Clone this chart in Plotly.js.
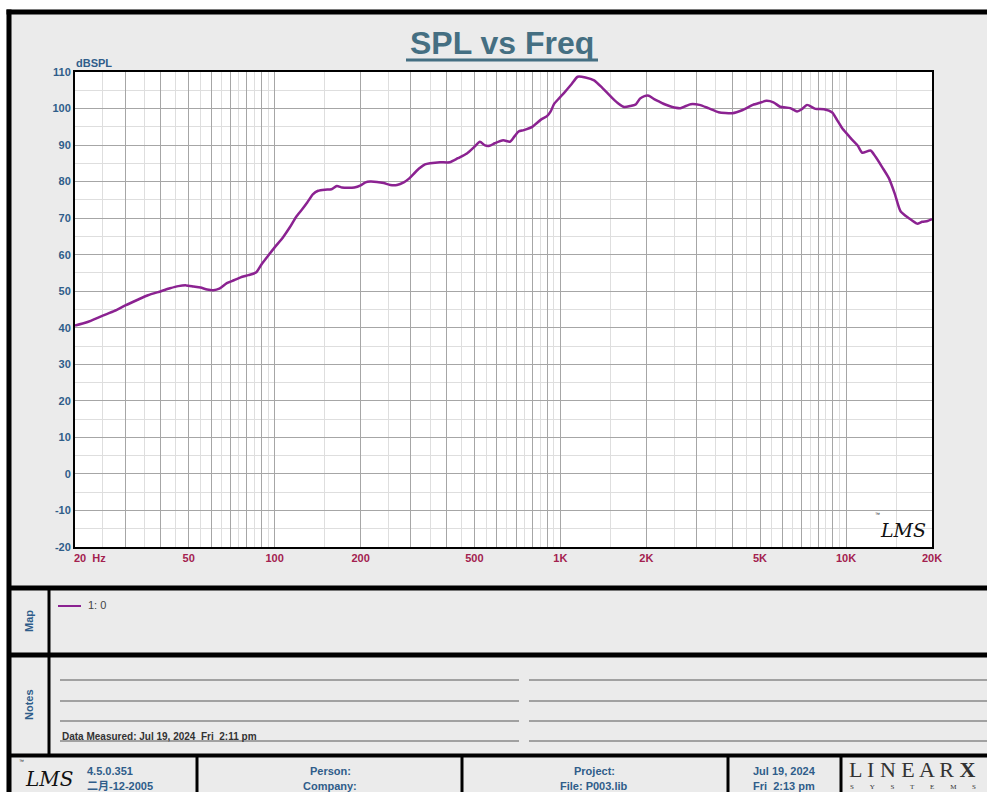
<!DOCTYPE html>
<html><head><meta charset="utf-8">
<script src="https://cdn.plot.ly/plotly-3.0.1.min.js"></script>
<style>html,body{margin:0;padding:0;background:#fff;overflow:hidden}#chart{width:987px;height:792px}</style>
</head><body><div id="chart"></div>
<script>
// ---- data ----
const freqHz = [20,22,25,27.5,30,33,36,40,43,46,49,52,55,58,61,64,68,72,76,81,86,90,95,100,107,113,119,125,130,136,142,150,158,165,172,180,190,200,208,216,228,241,254,268,283,296,310,322,336,350,379,410,438,471,500,523,545,565,590,631,666,690,714,745,797,853,900,925,950,990,1031,1090,1150,1224,1313,1405,1460,1524,1600,1674,1760,1840,1900,1970,2040,2130,2220,2330,2450,2630,2750,2860,3070,3300,3580,4000,4350,4720,5000,5270,5570,5880,6380,6740,7000,7310,7820,8370,8950,9300,9700,10100,10520,11000,11400,12180,12690,13400,14140,14800,15520,16600,17740,18470,19300,20000];
const splDb = [40.6,41.5,43.3,44.6,46.1,47.6,48.9,50.0,50.8,51.4,51.6,51.3,51.0,50.5,50.3,50.7,52.2,53.0,53.8,54.4,55.1,57.4,59.8,62.0,64.8,67.5,70.4,72.5,74.3,76.5,77.5,77.8,77.9,78.8,78.4,78.3,78.4,79.0,79.8,80.0,79.9,79.6,79.1,79.1,79.8,80.9,82.5,83.7,84.7,85.0,85.3,85.3,86.4,87.7,89.5,90.9,89.9,89.8,90.5,91.3,90.9,92.3,93.7,94.1,95.0,96.9,98.0,99.2,101.2,102.8,104.3,106.5,108.7,108.5,107.7,105.6,104.3,102.8,101.3,100.4,100.7,101.2,102.7,103.4,103.5,102.6,101.9,101.1,100.5,100.1,100.7,101.2,101.0,100.1,99.0,98.7,99.6,101.0,101.6,102.1,101.7,100.5,100.1,99.2,99.8,101.0,99.9,99.8,98.9,96.9,94.6,93.0,91.4,89.8,87.9,88.5,86.8,83.9,80.9,76.8,71.9,70.0,68.5,69.0,69.2,69.7];
const seriesName = '1: 0';
const xLabelVals = [50,100,200,500,1000,2000,5000,10000,20000];
const xLabelText = ['50','100','200','500','1K','2K','5K','10K','20K'];
const yTickVals = [-20,-10,0,10,20,30,40,50,60,70,80,90,100,110];
const yTickText = ['-20','-10','0','10','20','30','40','50','60','70','80','90','100','110'];

// ---- grid positions (1..9 per decade major, half-steps minor) ----
const majorX = [], majorText = [], minorX = [];
[10,100,1000,10000].forEach(d => {
  for (let m = 1; m <= 9; m++) {
    const v = m*d;
    if (v >= 20 && v <= 20000) {
      majorX.push(v);
      const i = xLabelVals.indexOf(v);
      majorText.push(i >= 0 ? xLabelText[i] : '');
    }
    const h = (m+0.5)*d;
    if (h > 20 && h < 20000) minorX.push(h);
  }
});
majorX.push(20000); majorText.push('20K');

// ---- pixel helpers for layout decoration ----
const L=75, R=932, T=72, B=547;
const px = x => (x-L)/(R-L);
const py = y => (B-y)/(B-T);
const FONT = 'Liberation Sans, Arial, Noto Sans CJK SC, sans-serif';
const BLUE = '#2f5d8a', RED = '#a3214f', PURPLE = '#8b2291';
const NB = n => '\u00a0'.repeat(n);

function rect(x0,y0,x1,y1,fill){return {type:'rect',xref:'paper',yref:'paper',x0:px(x0),x1:px(x1),y0:py(y0),y1:py(y1),fillcolor:fill,line:{width:0},layer:'below'};}
function seg(x0,y0,x1,y1,color,w){return {type:'line',xref:'paper',yref:'paper',x0:px(x0),x1:px(x1),y0:py(y0),y1:py(y1),line:{color:color,width:w},layer:'above'};}
function ann(text,x,y,o){o=o||{};return Object.assign({text:text,xref:'paper',yref:'paper',x:px(x),y:py(y),showarrow:false,xanchor:o.xa||'center',yanchor:o.ya||'middle',font:{family:o.family||FONT,size:o.size||11,color:o.color||BLUE,weight:o.weight||'normal',style:o.style||'normal'}},o.extra||{});}

const shapes = [
  rect(0,0,987,9.5,'#ffffff'),
  rect(0,0,6.5,792,'#ffffff'),
  seg(6.5,12,987,12,'#000',5),
  seg(9,9.5,9,792,'#000',5),
  seg(9,588,987,588,'#000',5),
  seg(9,655,987,655,'#000',5),
  seg(9,755.5,987,755.5,'#000',4),
  seg(49,588,49,755,'#000',3),
  seg(197,755,197,792,'#000',3),
  seg(462,755,462,792,'#000',3),
  seg(728,755,728,792,'#000',3),
  seg(841,755,841,792,'#000',3),
  seg(406,60,598,60,'#456f82',3),
  seg(58,606,81,606,PURPLE,2)
];
[680,701,721,741].forEach(y => {
  shapes.push(seg(60,y,519,y,'#888',1.5));
  shapes.push(seg(529,y,987,y,'#888',1.5));
});

const annotations = [
  ann('SPL vs Freq',502,43,{size:32,weight:'bold',color:'#456f82'}),
  ann('dBSPL',74,63,{xa:'left',weight:'bold'}),
  ann('20'+NB(2)+'Hz',72,558,{xa:'left',weight:'bold',color:RED}),
  ann('LMS',903,530,{size:19,style:'italic',family:'DejaVu Serif, serif',color:'#111'}),
  ann('™',877,514,{size:5,color:'#111'}),
  ann('Map',29,621,{weight:'bold',extra:{textangle:-90}}),
  ann('Notes',29,705,{weight:'bold',extra:{textangle:-90}}),
  ann(seriesName,86,605,{xa:'left',color:'#444'}),
  ann('Data Measured: Jul 19, 2024'+NB(2)+'Fri'+NB(2)+'2:11 pm',60,736,{xa:'left',size:10,weight:'bold',color:'#333'}),
  ann('LMS',49,779,{size:20,style:'italic',family:'DejaVu Serif, serif',color:'#111'}),
  ann('™',21,761,{size:5,color:'#111'}),
  ann('4.5.0.351',85,771,{xa:'left',weight:'bold'}),
  ann('二月-12-2005',85,786,{xa:'left',weight:'bold'}),
  ann('Person:',330,771,{weight:'bold'}),
  ann('Company:',330,786,{weight:'bold'}),
  ann('Project:',594,771,{weight:'bold'}),
  ann('File: P003.lib',594,786,{weight:'bold'}),
  ann('Jul 19, 2024',784,771,{weight:'bold'}),
  ann('Fri'+NB(2)+'2:13 pm',784,786,{weight:'bold'}),
  ann('L I N E A R <b>X</b>',847,769,{xa:'left',size:22,family:'Liberation Serif, serif',color:'#333'}),
  ann(['S','Y','S','T','E','M','S'].join(NB(9)),848,787.5,{xa:'left',size:7,family:'Liberation Serif, serif',color:'#333'})
];

const trace = {
  x: freqHz, y: splDb, type:'scatter', mode:'lines', name: seriesName,
  line:{color:PURPLE, width:2.5, shape:'spline', smoothing:0.6},
  hoverinfo:'skip'
};

const layout = {
  width:987, height:792, autosize:false,
  margin:{l:L, r:987-R, t:T, b:792-B, pad:0},
  paper_bgcolor:'#ebebeb', plot_bgcolor:'#ffffff',
  showlegend:false,
  font:{family:FONT},
  xaxis:{
    type:'log', range:[Math.log10(20), Math.log10(20000)],
    tickmode:'array', tickvals:majorX, ticktext:majorText,
    showgrid:true, gridcolor:'#a6a6a6', gridwidth:1,
    minor:{tickmode:'array', tickvals:minorX, showgrid:true, gridcolor:'#dedede', gridwidth:1, ticks:''},
    ticks:'', zeroline:false,
    showline:true, linecolor:'#000', linewidth:2, mirror:true,
    tickfont:{family:FONT, size:11, color:RED, weight:'bold'},
    fixedrange:true
  },
  yaxis:{
    range:[-20,110], tickmode:'array', tickvals:yTickVals, ticktext:yTickText,
    showgrid:true, gridcolor:'#a6a6a6', gridwidth:1,
    minor:{dtick:5, tick0:0, showgrid:true, gridcolor:'#dedede', gridwidth:1, ticks:''},
    ticks:'', zeroline:false,
    showline:true, linecolor:'#000', linewidth:2, mirror:true,
    tickfont:{family:FONT, size:11, color:BLUE, weight:'bold'},
    fixedrange:true
  },
  shapes: shapes,
  annotations: annotations
};

Plotly.newPlot('chart',[trace],layout,{staticPlot:true,displayModeBar:false});
</script>
</body></html>
